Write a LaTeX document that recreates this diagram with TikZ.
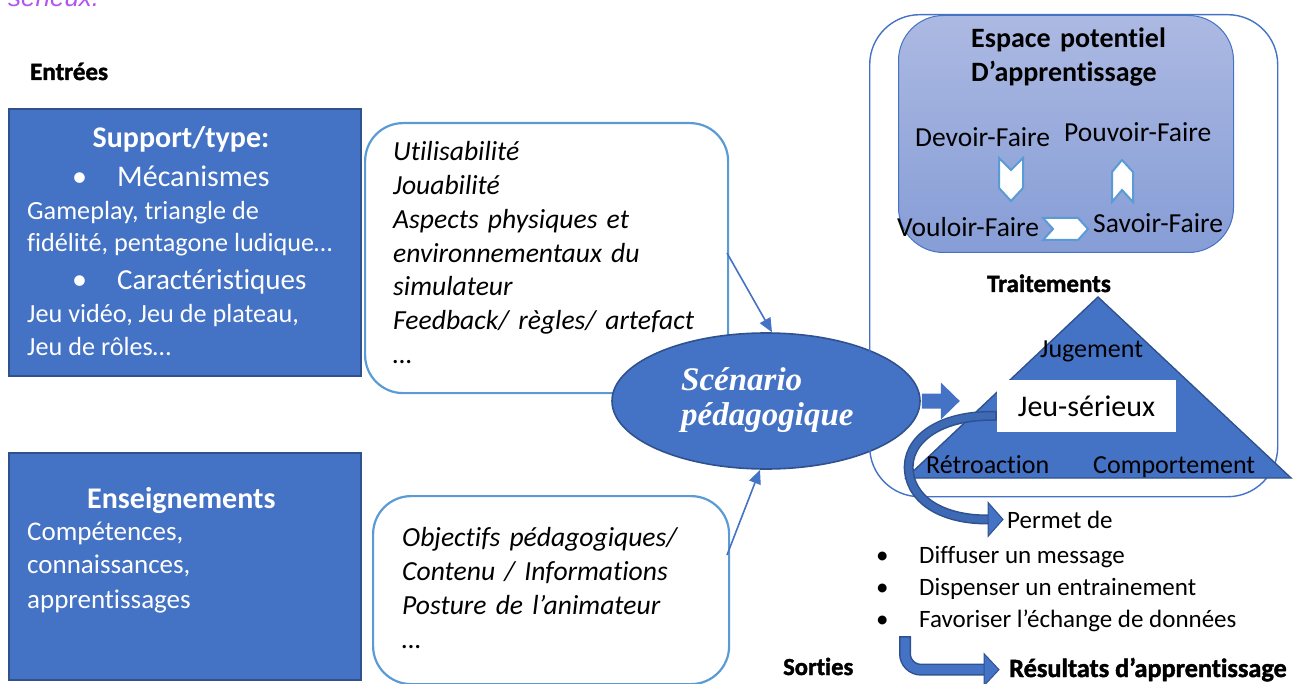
\documentclass[tikz,border=0pt]{standalone}
\usepackage{fontspec}
\setmainfont{Carlito}[Ligatures=NoCommon]
\newfontfamily\heavyf{Carlito}[Ligatures=NoCommon, FakeBold=1.6]
\newfontfamily\serifbi{Liberation Serif}
\newfontfamily\arialf{Liberation Sans}
\usetikzlibrary{shapes.geometric,arrows.meta}
\definecolor{mblue}{RGB}{68,114,196}
\definecolor{dblue}{RGB}{47,82,143}
\definecolor{lblue}{RGB}{91,155,213}
\definecolor{purp}{RGB}{178,84,240}
\definecolor{gtop}{RGB}{172,185,226}
\definecolor{gbot}{RGB}{134,157,214}
\newcommand{\fsz}[1]{\fontsize{#1}{#1}\selectfont}
\newcommand{\fsl}[2]{\fontsize{#1}{#2}\selectfont}
\begin{document}
\begin{tikzpicture}[x=1pt,y=-1pt,
  txt/.style={inner sep=0pt, anchor=base west},
  wtxt/.style={txt, text=white},
  heavy/.style={txt, font=\heavyf\bfseries\fsz{#1}},
  bluebox/.style={draw=dblue, fill=mblue, line width=1.8pt, inner sep=0pt, anchor=north west},
  roundbox/.style={draw=lblue, line width=2.2pt, rounded corners=38pt, inner sep=0pt, anchor=north west},
  thinarrow/.style={draw=mblue, fill=mblue, line width=1.6pt, -{Triangle[length=14pt,width=12pt]}},
  chev/.style={fill=white, draw=lblue, line width=2pt, line join=miter},
  headtip/.style={fill=mblue, draw=dblue, line width=1pt, line join=miter},
]
\useasboundingbox (0,0) rectangle (1305,684);
\clip (0,0) rectangle (1305,684);

% top clipped text
\node[txt, font=\arialf\itshape\fsz{26}, text=purp] (topt) at (8,7) {sérieux.};

% Entrées
\node[heavy=25] (entrees) at (30,80) {Entrées};

% Box 1
\node[bluebox, minimum width=352pt, minimum height=267pt] (box1) at (8,108) {};
\node[wtxt, anchor=base, font=\bfseries\fsz{30}] (sup) at (181,148) {Support/type:};
\node[wtxt, font=\fsz{30}] (b1) at (72,187) {•};
\node[wtxt, font=\fsz{30}] (mec) at (117,187) {Mécanismes};
\node[wtxt, font=\fsz{26.2}] (g1) at (27,220) {Gameplay, triangle de};
\node[wtxt, font=\fsz{26.2}] (g2) at (27,252) {fidélité, pentagone ludique…};
\node[wtxt, font=\fsz{30}] (b2) at (72,290) {•};
\node[wtxt, font=\fsz{29}] (car) at (117,290) {Caractéristiques};
\node[wtxt, font=\fsz{26.2}] (j1) at (27,322) {Jeu vidéo, Jeu de plateau,};
\node[wtxt, font=\fsz{26.2}] (j2) at (27,355) {Jeu de rôles…};

% Box 2
\node[bluebox, minimum width=352pt, minimum height=227pt] (box2) at (8,452) {};
\node[wtxt, font=\bfseries\fsz{30}] (ens) at (87,508) {Enseignements};
\node[wtxt, font=\fsz{27}] (c1) at (27,540) {Compétences,};
\node[wtxt, font=\fsz{27}] (c2) at (27,573) {connaissances,};
\node[wtxt, font=\fsz{27}] (c3) at (27,608) {apprentissages};

% Box 3
\node[roundbox, minimum width=363pt, minimum height=270pt] (box3) at (364,122) {};
\node[txt, font=\itshape\fsl{27.6}{33.67}, text width=330pt, align=left] (ital1) at (393,161)
  {Utilisabilité\\Jouabilité\\Aspects physiques et\\environnementaux du\\simulateur\\Feedback/ règles/ artefact\\…};

% Box 4
\node[roundbox, minimum width=356pt, minimum height=188pt] (box4) at (372,495) {};
\node[txt, font=\itshape\fsl{27.6}{34}, text width=320pt, align=left] (ital2) at (402,546)
  {Objectifs pédagogiques/\\Contenu / Informations\\Posture de l’animateur\\…};

% Ellipse
\node[ellipse, fill=mblue, draw=dblue, line width=1.6pt, minimum width=308pt, minimum height=136pt, inner sep=0pt] (ell) at (766,401) {};
\node[wtxt, font=\serifbi\bfseries\itshape\fsz{33}] (sc1) at (681,390) {Scénario};
\node[wtxt, font=\serifbi\bfseries\itshape\fsz{33}] (sc2) at (681,425) {pédagogique};

% thin arrows
\coordinate (a1s) at (727,253);
\coordinate (a2s) at (727,555);
\draw[thinarrow] (a1s) -- (ell.85);
\draw[thinarrow] (a2s) -- (ell.265);

% outer right box
\node[draw=mblue, line width=1.4pt, rounded corners=50pt, minimum width=408pt, minimum height=482pt, inner sep=0pt, anchor=north west] (outer) at (869,14) {};
% inner gradient box
\node[draw=mblue, line width=1pt, rounded corners=45pt, top color=gtop, bottom color=gbot, minimum width=335pt, minimum height=237pt, inner sep=0pt, anchor=north west] (inner) at (898,15) {};
\node[txt, font=\bfseries\fsl{28}{34}, text width=250pt, align=left] (esp) at (971,48) {Espace potentiel\\D’apprentissage};
\node[txt, font=\fsz{27.5}] (dev) at (915,147) {Devoir-Faire};
\node[txt, font=\fsz{27.5}] (pou) at (1064,142) {Pouvoir-Faire};
\node[txt, font=\fsz{27.5}] (vou) at (897,237) {Vouloir-Faire};
\node[txt, font=\fsz{27.5}] (sav) at (1093,233) {Savoir-Faire};
% chevrons
\draw[chev] (999,158) -- (1011,170) -- (1023,158) -- (1023,188) -- (1011,201) -- (999,188) -- cycle;
\draw[chev] (1122,160) -- (1133,172) -- (1133,202) -- (1122,190) -- (1112,202) -- (1112,172) -- cycle;
\draw[chev] (1043,218) -- (1078,218) -- (1088,229) -- (1078,240) -- (1043,240) -- (1053,229) -- cycle;

% Traitements and triangle
\node[heavy=25, anchor=base] (trt) at (1049,292) {Traitements};
\coordinate (tA) at (1098,297);
\coordinate (tL) at (906,478);
\coordinate (tR) at (1291,478);
\draw[fill=mblue, draw=dblue, line width=1.4pt, line join=miter] (tA) -- (tR) -- (tL) -- cycle;
\node[txt, font=\fsz{26}] (jug) at (1040,357) {Jugement};
\node[fill=white, inner sep=0pt, minimum width=179pt, minimum height=52pt, font=\fsz{30}] (jeu) at (1086.5,406) {Jeu-sérieux};
\node[txt, font=\fsz{26}] (ret) at (926,473) {Rétroaction};
\node[txt, font=\fsz{26}] (com) at (1093,473) {Comportement};

% block arrow ellipse -> triangle
\fill[mblue] ([yshift=7.5pt,xshift=1pt]ell.east) -- ++(19,0) -- ++(0,-11) -- ++(19,18.5) -- ++(-19,18.5) -- ++(0,-11) -- ++(-19,0) -- cycle;

% Permet de + list
\node[txt, font=\fsz{25}] (perm) at (1007,528) {Permet de};
\node[txt, font=\fsz{25}] (bl1) at (876,563) {•};
\node[txt, font=\fsz{25}] (l1) at (919,563) {Diffuser un message};
\node[txt, font=\fsz{25}] (bl2) at (876,595) {•};
\node[txt, font=\fsz{25}] (l2) at (919,595) {Dispenser un entrainement};
\node[txt, font=\fsz{25}] (bl3) at (876,627) {•};
\node[txt, font=\fsz{25}] (l3) at (919,627) {Favoriser l’échange de données};

% curved arrow Jeu-sérieux -> Permet de
\coordinate (cS) at ([yshift=-10pt]jeu.west);
\coordinate (cE) at ([xshift=-4pt]perm.west);
\coordinate (cB) at ([xshift=-15pt]cE);
\draw[dblue, line width=10pt] (cS) .. controls (940,414) and (905,440) .. (909,472) .. controls (913,505) and (950,520) .. (cB);
\draw[mblue!92!black, line width=7pt] ([xshift=-1.5pt]cS) .. controls (940,414) and (905,440) .. (909,472) .. controls (913,505) and (950,520) .. (cB);
\draw[headtip] (cE) ++(-15,-17) -- (cE) -- ++(-15,17) -- cycle;

% Sorties and bent arrow
\node[heavy=24.5] (sor) at (783,675) {Sorties};
\node[heavy=26.3] (res) at (1009,677) {Résultats d’apprentissage};
\coordinate (bS) at (905,636);
\coordinate (rE) at ([xshift=-10pt]res.west);
\coordinate (hb) at ([xshift=-15pt]rE);
\draw[dblue, line width=12pt, rounded corners=16pt] (bS) |- (hb);
\draw[mblue, line width=9pt, rounded corners=16pt] ([yshift=-1.5pt]bS) |- (hb);
\draw[headtip] (rE) ++(-15,-16) -- (rE) -- ++(-15,16) -- cycle;
\end{tikzpicture}
\end{document}
